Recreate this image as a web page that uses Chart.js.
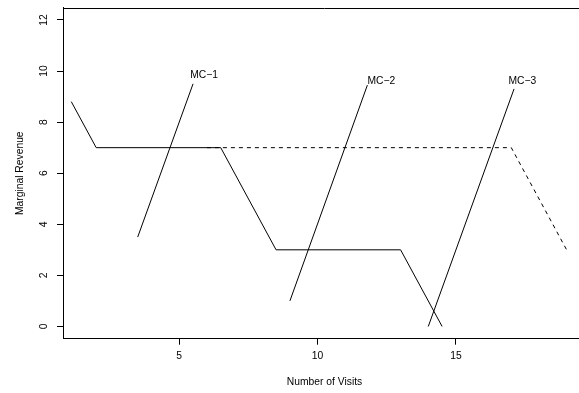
<!DOCTYPE html>
<html>
<head>
<meta charset="utf-8">
<script src="https://cdn.jsdelivr.net/npm/chart.js@4"></script>
<style>
  html, body { margin: 0; padding: 0; background: #fff; overflow: hidden; }
  /* the original plot region runs past the right edge of the picture, so the canvas is wider than the window */
  #wrap { position: relative; width: 594px; height: 393px; }
</style>
</head>
<body>
<div id="wrap"><canvas id="chart"></canvas></div>
<script>
// marginal revenue, solid
const mrX = [1.1, 2, 6.5, 8.5, 13, 14.5]
const mrY = [8.8, 7, 7, 3, 3, 0]
// marginal revenue, dashed
const mrDashX = [6, 17, 19]
const mrDashY = [7, 7, 3]
// marginal cost lines
const mc1X = [3.5, 5.5]
const mc1Y = [3.5, 9.5]
const mc2X = [9, 11.8]
const mc2Y = [1, 9.45]
const mc3X = [14, 17.1]
const mc3Y = [0, 9.3]
// labels at the top of the MC lines
const mcLabels = ['MC\u22121', 'MC\u22122', 'MC\u22123']
const mcLabelX = [5.4, 11.8, 16.9]
const mcLabelY = [9.85, 9.6, 9.6]
// axis ticks
const xTicks = [5, 10, 15]
const yTicks = [0, 2, 4, 6, 8, 10, 12]

const FONT = {family: '"Liberation Sans", Arial, Helvetica, sans-serif', size: 10.3}

function pts(xs, ys) {
  return xs.map((x, i) => ({x, y: ys[i]}))
}

function lineSet(xs, ys, dash) {
  return {
    data: pts(xs, ys),
    borderColor: '#000',
    borderWidth: 1,
    borderDash: dash || [],
    pointRadius: 0,
    tension: 0,
    fill: false,
  }
}

// top border of the box plus the MC text labels
const boxAndLabels = {
  id: 'boxAndLabels',
  afterDatasetsDraw(chart) {
    const {ctx, chartArea, scales} = chart
    ctx.save()
    ctx.strokeStyle = '#000'
    ctx.lineWidth = 1
    ctx.beginPath()
    ctx.moveTo(chartArea.left, Math.round(chartArea.top) + 0.5)
    ctx.lineTo(chartArea.right, Math.round(chartArea.top) + 0.5)
    ctx.moveTo(Math.round(chartArea.right) + 0.5, chartArea.top)
    ctx.lineTo(Math.round(chartArea.right) + 0.5, chartArea.bottom)
    ctx.stroke()

    ctx.fillStyle = '#000'
    ctx.font = FONT.size + 'px ' + FONT.family
    ctx.textAlign = 'left'
    ctx.textBaseline = 'middle'
    mcLabels.forEach((t, i) => {
      ctx.fillText(t, scales.x.getPixelForValue(mcLabelX[i]), scales.y.getPixelForValue(mcLabelY[i]))
    })
    ctx.restore()
  }
}

new Chart(document.getElementById('chart'), {
  type: 'line',
  data: {
    datasets: [
      lineSet(mrX, mrY),
      lineSet(mrDashX, mrDashY, [4, 4]),
      lineSet(mc1X, mc1Y),
      lineSet(mc2X, mc2Y),
      lineSet(mc3X, mc3Y),
    ]
  },
  options: {
    responsive: true,
    maintainAspectRatio: false,
    animation: false,
    layout: {padding: {top: 7.7, right: 8, left: 0, bottom: 0}},
    plugins: {legend: {display: false}, tooltip: {enabled: false}},
    scales: {
      x: {
        type: 'linear',
        min: 0.8,
        max: 19.7,
        afterBuildTicks: (s) => { s.ticks = xTicks.map(v => ({value: v})) },
        afterFit: (s) => { s.height = 54.3; s.paddingLeft = 0; s.paddingRight = 0 },
        grid: {display: true, drawOnChartArea: false, drawTicks: true, tickLength: 6, color: '#000', lineWidth: 1},
        border: {display: true, color: '#000', width: 1},
        ticks: {color: '#000', font: FONT, padding: 5.5, maxRotation: 0, autoSkip: false},
        title: {display: true, text: 'Number of Visits', color: '#000', font: FONT, padding: {top: 0, bottom: 4.5}},
      },
      y: {
        type: 'linear',
        min: -0.48,
        max: 12.48,
        afterBuildTicks: (s) => { s.ticks = yTicks.map(v => ({value: v})) },
        afterFit: (s) => { s.width = 63; s.paddingTop = 0; s.paddingBottom = 0 },
        grid: {display: true, drawOnChartArea: false, drawTicks: true, tickLength: 6, color: '#000', lineWidth: 1},
        border: {display: true, color: '#000', width: 1},
        ticks: {color: '#000', font: FONT, padding: 7.5, minRotation: 90, maxRotation: 90, crossAlign: 'center', autoSkip: false},
        title: {display: true, text: 'Marginal Revenue', color: '#000', font: FONT, padding: {top: 14, bottom: 0}},
      }
    }
  },
  plugins: [boxAndLabels]
})
</script>
</body>
</html>
